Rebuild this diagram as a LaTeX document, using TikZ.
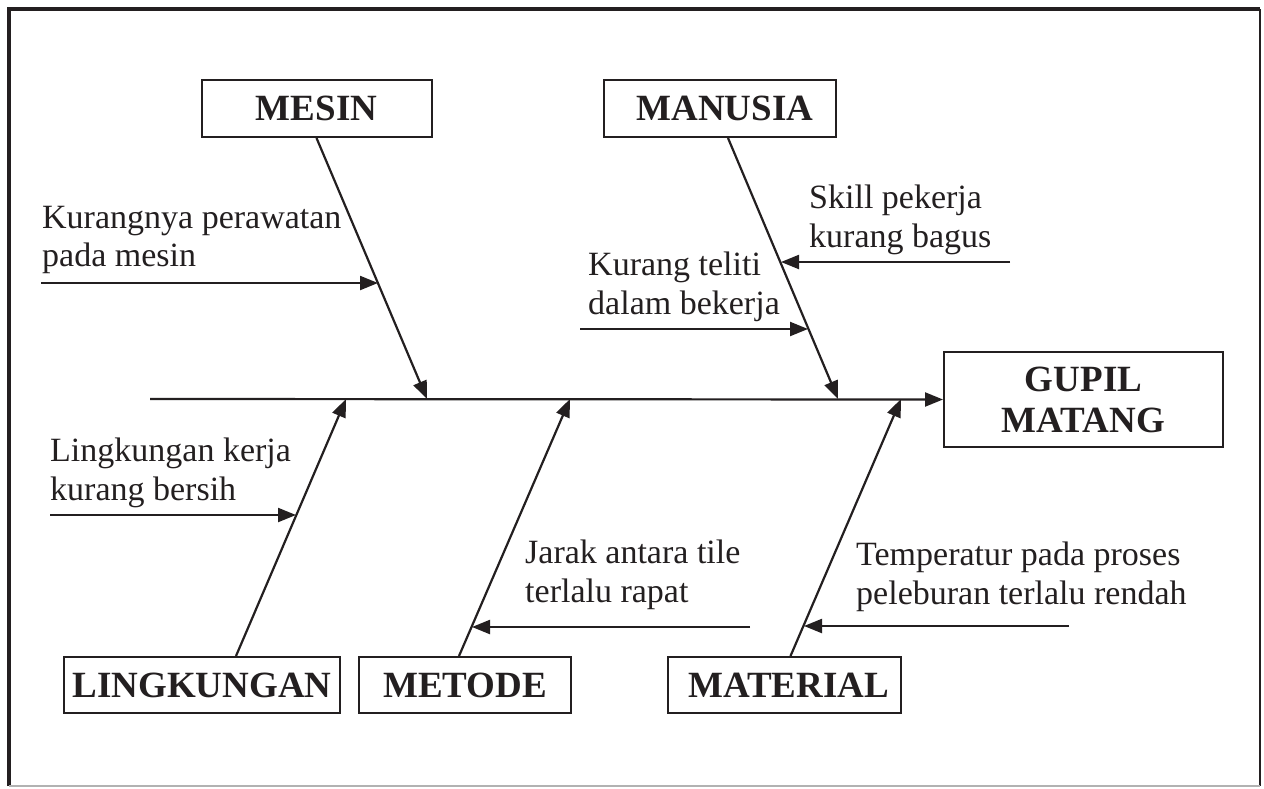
\documentclass[tikz,border=0pt]{standalone}
\usepackage{fontspec}
\setmainfont{Liberation Serif}
\usetikzlibrary{arrows.meta,positioning,calc}
\definecolor{ink}{HTML}{231F20}
\tikzset{
  cause/.style={draw=ink, line width=2pt, minimum height=57pt, inner sep=0pt, align=center, text=ink,
    font=\fontsize{37}{41}\selectfont\bfseries},
  note/.style={anchor=west, inner sep=0pt, align=left, text=ink, font=\fontsize{34}{38.5}\selectfont},
  bone/.style={draw=ink, line width=2.2pt, -{Triangle[length=18pt,width=14pt]}}
}

\begin{document}
\begin{tikzpicture}[x=1pt, y=-1pt]
  \useasboundingbox (0,0) rectangle (1264,788);
  % frame
  \draw [ink, line width=4pt] (9,786) -- (9,9) -- (1260,9);
  \draw [ink, line width=2.5pt] (1260,9) -- (1260,786);
  \draw [gray!60, line width=2pt] (9,786) -- (1260,786);

  % boxes
  \node (mesin) [cause, minimum width=230pt] at (316.5,108.5) {MESIN};
  \node (manusia) [cause, minimum width=232pt] at (720,108.5) {\hspace*{10pt}MANUSIA};
  \node (gupil) [cause, minimum width=279pt, minimum height=95pt] at (1083.5,399.5) {GUPIL\\MATANG};
  \node (lingkungan) [cause, minimum width=276pt, minimum height=56pt] at (202,685) {LINGKUNGAN};
  \node (metode) [cause, minimum width=212pt, minimum height=56pt] at (465,685) {METODE};
  \node (material) [cause, minimum width=233pt, minimum height=56pt] at (784.5,685) {\hspace*{8pt}MATERIAL};

  % causes
  \node (rawat) [note] at (42,240) {Kurangnya perawatan\\pada mesin};
  \node (skill) [note] at (809,220) {Skill pekerja\\kurang bagus};
  \node (teliti) [note] at (588,287) {Kurang teliti\\dalam bekerja};
  \node (bersih) [note] at (50,473) {Lingkungan kerja\\kurang bersih};
  \node (jarak) [note] at (525,575) {Jarak antara tile\\terlalu rapat};
  \node (suhu) [note] at (856,577) {Temperatur pada proses\\peleburan terlalu rendah};

  % spine and joints
  \coordinate (tail) at (150,399);
  \coordinate (jM) at (427,399);
  \coordinate (jN) at (838,399);
  \coordinate (jL) at (346,399);
  \coordinate (jT) at (570,399);
  \coordinate (jR) at (901,399);

  \coordinate (r0) at (41,283);   \coordinate (r1) at (378,283);
  \coordinate (s0) at (1010,262); \coordinate (s1) at (781,262);
  \coordinate (t0) at (580,329);  \coordinate (t1) at (808,329);
  \coordinate (b0) at (50,515);   \coordinate (b1) at (296,515);
  \coordinate (j0) at (750,627);  \coordinate (j1) at (472,627);
  \coordinate (u0) at (1069,626); \coordinate (u1) at (804,626);

  \path [every edge/.style={bone}]
  (tail) edge (gupil.west)
  (mesin.south) edge (jM)
  ([xshift=8pt]manusia.south) edge (jN)
  ([xshift=34pt]lingkungan.north) edge (jL)
  ([xshift=-6pt]metode.north) edge (jT)
  ([xshift=6pt]material.north) edge (jR)
  (r0) edge (r1)
  (s0) edge (s1)
  (t0) edge (t1)
  (b0) edge (b1)
  (j0) edge (j1)
  (u0) edge (u1);

\end{tikzpicture}
\end{document}
